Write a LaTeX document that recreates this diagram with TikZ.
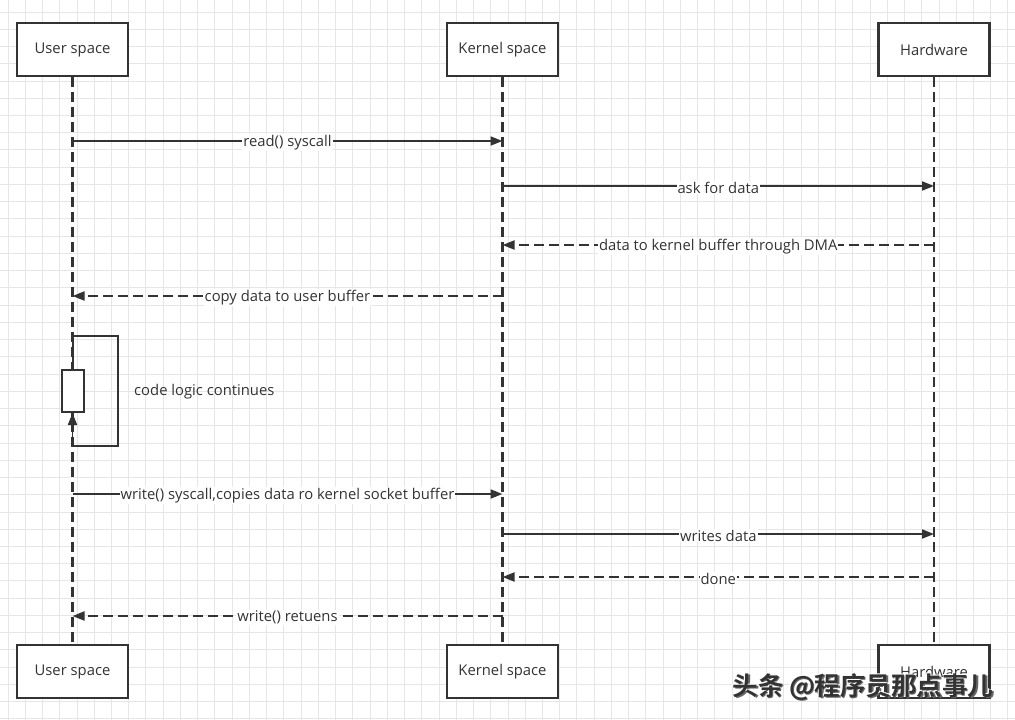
\documentclass[tikz,border=0pt]{standalone}
\usepackage{fontspec}
\setmainfont{Open Sans}
\newfontfamily\cjkfont{Noto Sans CJK SC Bold}
\usetikzlibrary{arrows.meta}
\definecolor{ink}{HTML}{333333}
\definecolor{gridc}{HTML}{E6E6E6}
\begin{document}
\begin{tikzpicture}[x=1pt,y=-1pt,
  gridline/.style={draw=gridc, line width=0.9pt},
  actor/.style={draw=ink, line width=2.1pt, fill=white, text=ink,
    minimum width=111pt, minimum height=53pt, inner sep=0pt,
    font=\fontsize{14.8}{17}\selectfont},
  lifeline/.style={draw=ink, line width=2.3pt, dash pattern=on 10pt off 5pt},
  callarrow/.style={draw=ink, line width=1.9pt, -{Triangle[length=12pt,width=9pt]}},
  retarrow/.style={draw=ink, line width=1.9pt, dash pattern=on 10pt off 5pt,
    -{Triangle[length=12pt,width=9pt]}},
  msglabel/.style={fill=white, text=ink, inner sep=1pt, yshift=-1.5pt,
    font=\fontsize{14.8}{17}\selectfont},
  note/.style={text=ink, inner sep=0pt, font=\fontsize{14.8}{17}\selectfont}]
\useasboundingbox (0,0) rectangle (1015,720);
\fill[white] (0,0) rectangle (1015,720);
% grid
\foreach \i in {0,...,58} \draw[gridline] (8+\i*17.24,0) -- (8+\i*17.24,720);
\foreach \j in {0,...,41} \draw[gridline] (0,12+\j*17.24) -- (1015,12+\j*17.24);
% actors
\node[actor] (us)  at (72.5,49.5)  {User space};
\node[actor] (ks)  at (502.5,49.5) {Kernel space};
\node[actor] (hw)  at (934,49.5)   {Hardware};
\node[actor] (us2) at (72.5,671.5)  {User space};
\node[actor] (ks2) at (502.5,671.5) {Kernel space};
\node[actor] (hw2) at (934,671.5)   {Hardware};
% lifelines
\draw[lifeline] (us.south) -- (us2.north);
\draw[lifeline] (ks.south) -- (ks2.north);
\draw[lifeline] (hw.south) -- (hw2.north);
% message end points
\coordinate (u1) at (72.5,141);  \coordinate (k1) at (502.5,141);
\coordinate (k2) at (502.5,186); \coordinate (h2) at (934,186);
\coordinate (h3) at (934,245);   \coordinate (k3) at (502.5,245);
\coordinate (k4) at (502.5,296); \coordinate (u4) at (72.5,296);
\coordinate (u6) at (72.5,494);  \coordinate (k6) at (502.5,494);
\coordinate (k7) at (502.5,534); \coordinate (h7) at (934,534);
\coordinate (h8) at (934,577);   \coordinate (k8) at (502.5,577);
\coordinate (k9) at (502.5,616); \coordinate (u9) at (72.5,616);
% messages
\draw[callarrow] (u1) -- node[msglabel] {read() syscall} (k1);
\draw[callarrow] (k2) -- node[msglabel] {ask for data} (h2);
\draw[retarrow]  (h3) -- node[msglabel] {data to kernel buffer through DMA} (k3);
\draw[retarrow]  (k4) -- node[msglabel] {copy data to user buffer} (u4);
% self loop
\coordinate (l1) at (72.5,336); \coordinate (l2) at (118,336);
\coordinate (l3) at (118,446);  \coordinate (l4) at (72.5,446);
\node[draw=ink, line width=2pt, fill=white, minimum width=22pt, minimum height=42pt, inner sep=0pt] (act) at (72.5,391) {};
\draw[draw=ink, line width=2pt] (act.north) -- (l1) -- (l2) -- (l3) -- (l4);
\draw[callarrow] (l4) -- (act.south);
\node[note, anchor=west] (cl) at (134,392) {code logic continues};
\draw[callarrow] (u6) -- node[msglabel] {write() syscall,copies data ro kernel socket buffer} (k6);
\draw[callarrow] (k7) -- node[msglabel] {writes data} (h7);
\draw[retarrow]  (h8) -- node[msglabel] {done} (k8);
\draw[retarrow]  (k9) -- node[msglabel] {write() retuens} (u9);
% watermark
\node[text=black!60, font=\cjkfont\fontsize{25.5}{27}\selectfont, inner sep=0pt] at (864.5,688) {头条 @程序员那点事儿};
\node[text=white, font=\cjkfont\fontsize{25.5}{27}\selectfont, inner sep=0pt] at (862,685.5) {头条 @程序员那点事儿};
\node[text=ink, font=\cjkfont\fontsize{25.5}{27}\selectfont, inner sep=0pt] (wm) at (863,686.5) {头条 @程序员那点事儿};
\end{tikzpicture}
\end{document}
